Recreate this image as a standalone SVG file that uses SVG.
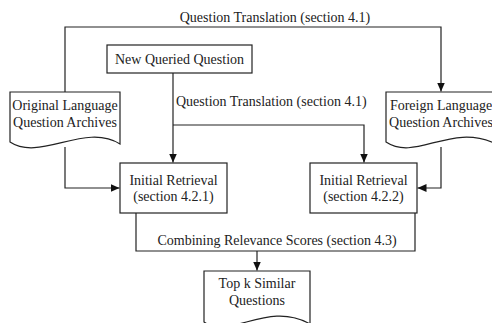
<svg xmlns="http://www.w3.org/2000/svg" width="492" height="323" viewBox="0 0 492 323">
  <style>
    .box { fill: #fff; stroke: #222; stroke-width: 1.2; }
    .doc { fill: #fff; stroke: #222; stroke-width: 1.2; }
    .wire { fill: none; stroke: #222; stroke-width: 1.2; }
    text { font-family: "Liberation Serif", "Times New Roman", serif; font-size: 14px; fill: #222; }
    .c { text-anchor: middle; }
  </style>
  <defs>
    <marker id="arrow" markerUnits="userSpaceOnUse" markerWidth="10" markerHeight="10" refX="9" refY="4.5" orient="auto">
      <path d="M0,0.5 L9,4.5 L0,8.5 z" fill="#111"/>
    </marker>
  </defs>
  <rect width="492" height="323" fill="#fff"/>

  <!-- connectors -->
  <g id="connectors">
    <path class="wire" d="M65,92 V27 H441 V91.5" marker-end="url(#arrow)"/>
    <text x="275" y="22" class="c">Question Translation (section 4.1)</text>
    <path class="wire" d="M173,73 V162.5" marker-end="url(#arrow)"/>
    <path class="wire" d="M173,125 H364 V162.5" marker-end="url(#arrow)"/>
    <text x="176" y="106">Question Translation (section 4.1)</text>
    <path class="wire" d="M65,147 V188 H119.5" marker-end="url(#arrow)"/>
    <path class="wire" d="M441,147 V188 H417.5" marker-end="url(#arrow)"/>
    <path class="wire" d="M136,213 V251 H415 V213"/>
    <text x="277" y="245" class="c">Combining Relevance Scores (section 4.3)</text>
    <path class="wire" d="M257,251 V270.5" marker-end="url(#arrow)"/>
  </g>

  <g id="new-queried-question">
    <rect class="box" x="107" y="45" width="145" height="28"/>
    <text x="179.5" y="64" class="c">New Queried Question</text>
  </g>

  <g id="original-archives">
    <path class="doc" d="M10,92 H120 V144 C85,122 40,162 10,142 Z"/>
    <text x="65" y="110" class="c">Original Language</text>
    <text x="65" y="127" class="c">Question Archives</text>
  </g>

  <g id="foreign-archives">
    <path class="doc" d="M386,92 H496 V144 C451,122 416,162 386,142 Z"/>
    <text x="441" y="110" class="c">Foreign Language</text>
    <text x="441" y="127" class="c">Question Archives</text>
  </g>

  <g id="initial-retrieval-1">
    <rect class="box" x="120" y="163" width="107" height="50"/>
    <text x="173.5" y="185" class="c">Initial Retrieval</text>
    <text x="173.5" y="201" class="c">(section 4.2.1)</text>
  </g>

  <g id="initial-retrieval-2">
    <rect class="box" x="310" y="163" width="107" height="50"/>
    <text x="363.5" y="185" class="c">Initial Retrieval</text>
    <text x="363.5" y="201" class="c">(section 4.2.2)</text>
  </g>

  <g id="top-k">
    <path class="doc" d="M204,271 H310 V324 C268,300 230,340 204,322 Z"/>
    <text x="257" y="288" class="c">Top k Similar</text>
    <text x="257" y="305" class="c">Questions</text>
  </g>
</svg>
